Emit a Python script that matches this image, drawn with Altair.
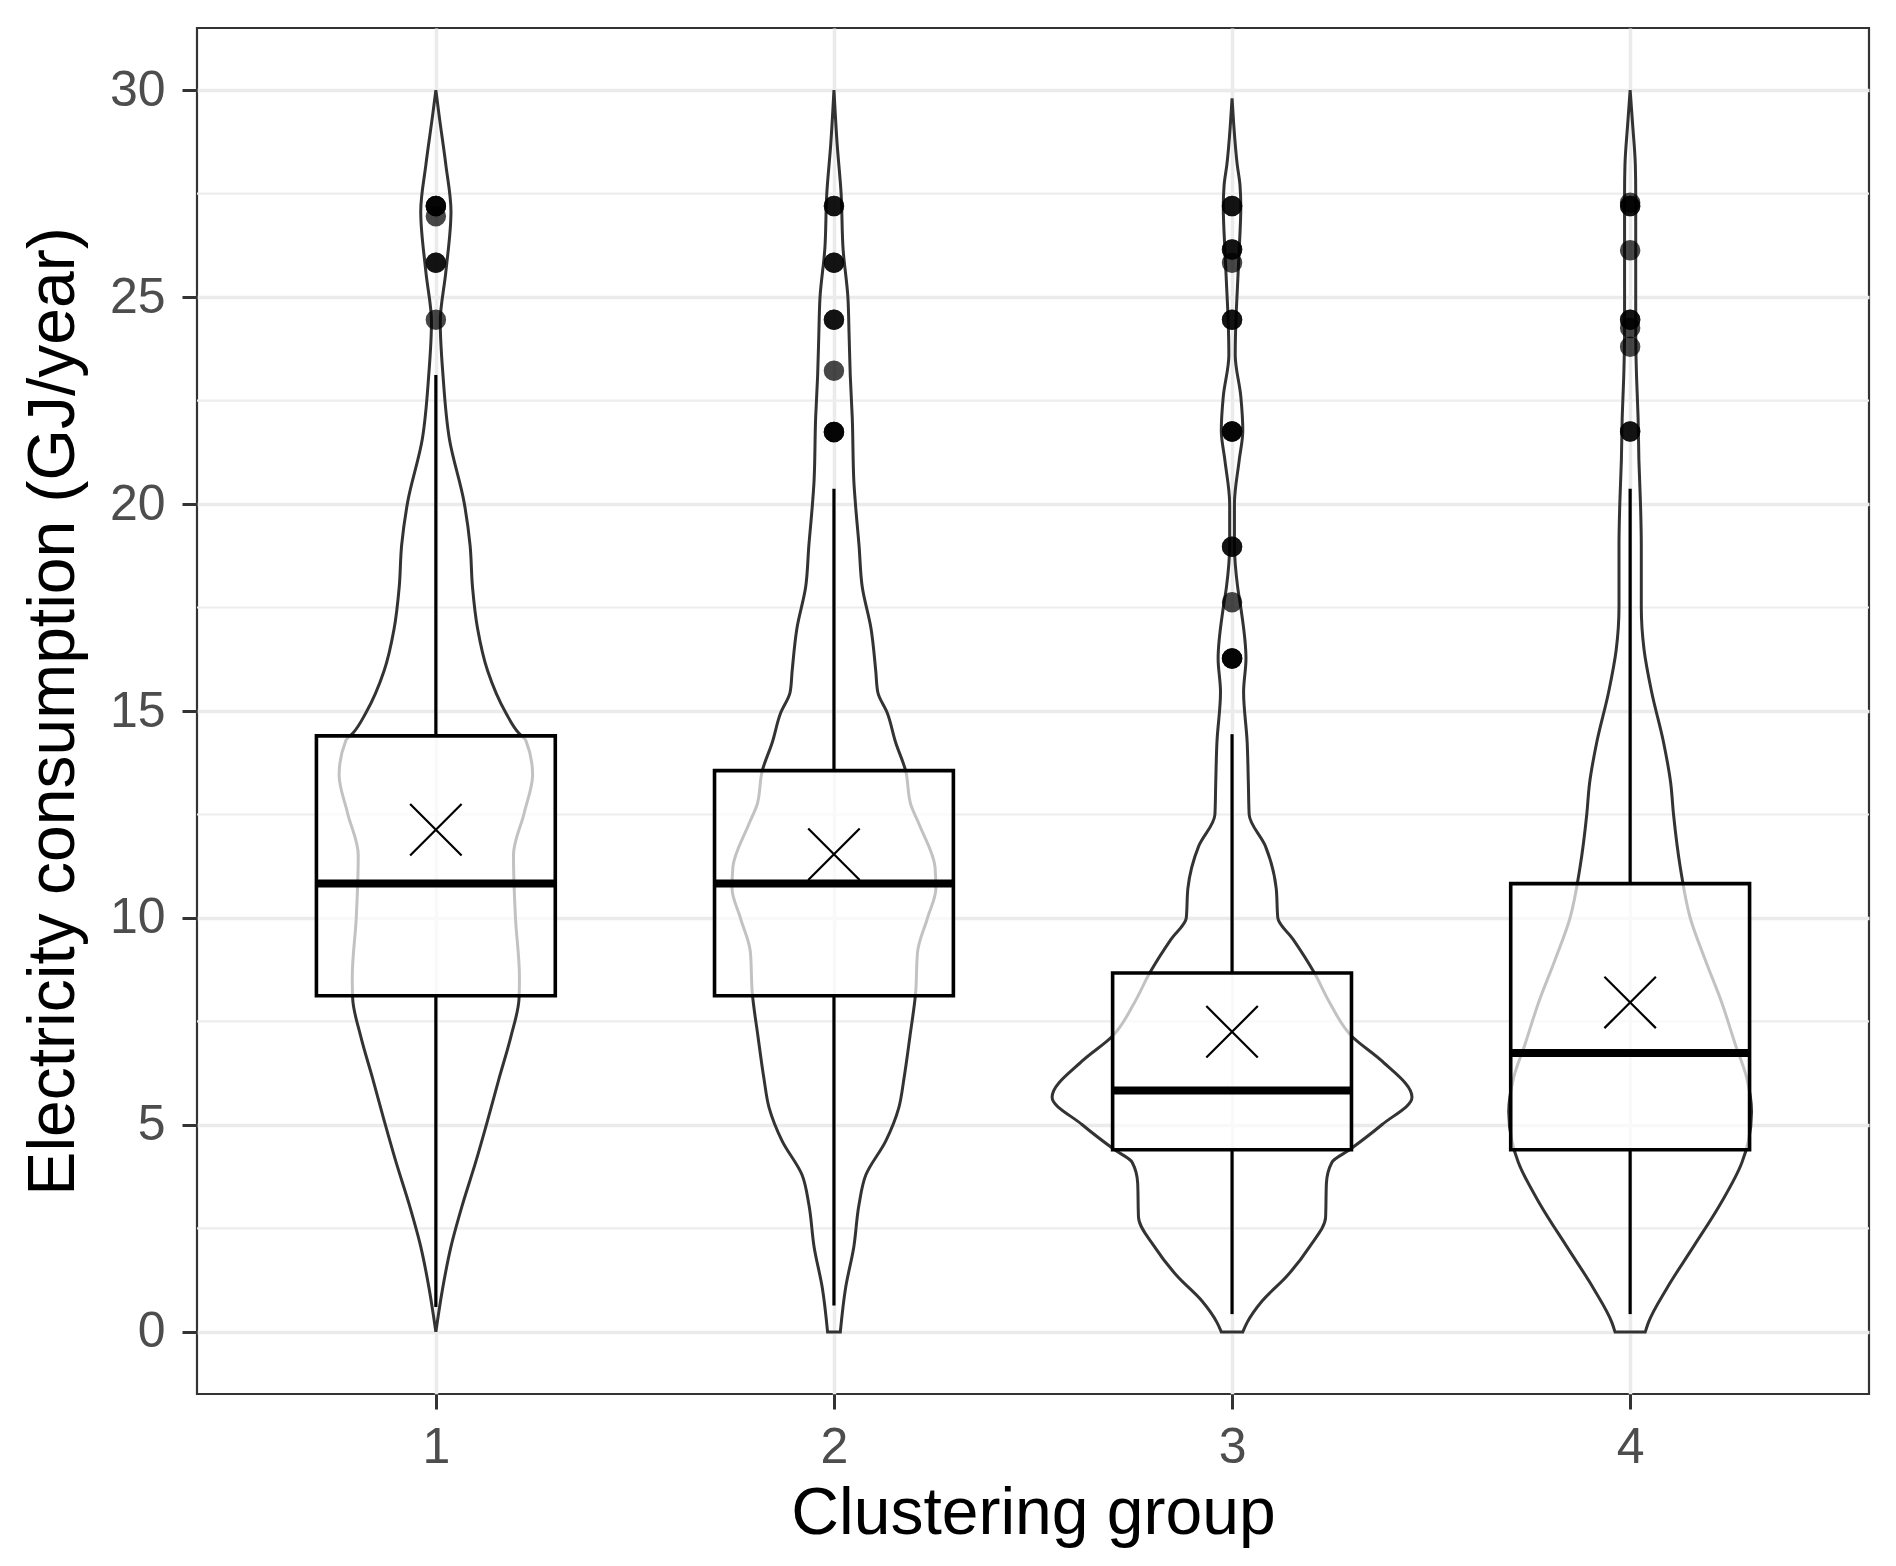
import altair as alt
import pandas as pd

# ---------------- data ----------------
groups = [1, 2, 3, 4]
q1 = [8.12, 8.12, 4.40, 4.40]
median = [10.83, 10.83, 5.83, 6.74]
q3 = [14.40, 13.56, 8.67, 10.83]
whisker_low = [0.60, 0.64, 0.43, 0.43]
whisker_high = [23.12, 20.37, 14.44, 20.37]
means = [12.13, 11.54, 7.25, 7.96]

outliers_1 = [27.2, 27.2, 27.2, 26.95, 25.83, 25.83, 24.45]
outliers_2 = [27.2, 27.2, 25.83, 25.83, 24.45, 24.45, 23.22, 21.74, 21.74, 21.74]
outliers_3 = [27.2, 27.2, 26.15, 26.15, 25.83, 24.45, 24.45, 21.75, 21.75, 21.75,
              18.97, 18.97, 17.63, 16.27, 16.27, 16.27]
outliers_4 = [27.28, 27.2, 27.2, 26.13, 24.45, 24.45, 24.25, 23.8, 21.75, 21.75]

# violin outlines: value and half-width (in category units)
violin_y_1 = [0.0, 1.05, 2.06, 3.08, 4.1, 5.11, 6.13, 7.15, 8.06, 8.57, 10.0, 11.52,
              12.54, 13.46, 14.29, 14.48, 14.95, 15.97, 16.98, 18.0, 19.0, 20.04,
              21.57, 23.1, 24.4, 25.6, 27.07, 28.2, 29.4, 30.0]
violin_w_1 = [0.0, 0.017, 0.038, 0.067, 0.10, 0.13, 0.159, 0.189, 0.209, 0.21, 0.20, 0.195,
              0.222, 0.243, 0.226, 0.207, 0.176, 0.13, 0.105, 0.092, 0.086, 0.071,
              0.034, 0.018, 0.011, 0.025, 0.038, 0.025, 0.008, 0.0]

violin_y_2 = [0.0, 1.05, 2.06, 3.08, 3.79, 4.61, 5.42, 6.13, 7.15, 8.17, 9.18, 10.0,
              10.71, 11.22, 12.24, 12.74, 13.56, 14.24, 14.95, 15.46, 15.97, 17.0, 18.0,
              19.0, 20.0, 20.55, 22.08, 23.1, 24.1, 25.0, 26.15, 27.5, 28.7, 30.0]
violin_w_2 = [0.016, 0.029, 0.05, 0.063, 0.08, 0.13, 0.163, 0.176, 0.191, 0.205, 0.21, 0.235,
              0.256, 0.254, 0.215, 0.193, 0.18, 0.155, 0.134, 0.11, 0.105, 0.093, 0.071,
              0.063, 0.054, 0.05, 0.046, 0.041, 0.038, 0.035, 0.023, 0.018, 0.008, 0.0]

violin_y_3 = [0.0, 0.23, 0.74, 1.35, 2.06, 2.77, 3.59, 4.1, 4.4, 5.01, 5.67, 6.54, 7.15,
              7.96, 8.67, 9.49, 10.0, 10.71, 11.73, 12.5, 13.25, 14.24, 15.46, 16.27,
              17.5, 18.0, 19.02, 20.0, 21.06, 21.77, 22.6, 23.6, 24.5, 25.13, 26.15,
              27.17, 27.7, 28.2, 29.2, 29.8]
violin_w_3 = [0.027, 0.038, 0.075, 0.138, 0.195, 0.235, 0.237, 0.251, 0.295, 0.377, 0.452,
              0.377, 0.30, 0.245, 0.207, 0.153, 0.115, 0.111, 0.084, 0.043, 0.041, 0.038,
              0.029, 0.035, 0.022, 0.014, 0.006, 0.006, 0.018, 0.027, 0.022, 0.008, 0.01,
              0.013, 0.018, 0.022, 0.02, 0.013, 0.004, 0.0]

violin_y_4 = [0.0, 0.23, 1.05, 2.06, 3.08, 4.1, 4.61, 5.32, 6.13, 6.95, 7.96, 8.98, 10.0,
              11.22, 12.5, 13.25, 14.24, 15.46, 16.48, 17.5, 19.0, 20.0, 21.06, 22.08,
              23.1, 24.1, 26.15, 27.5, 28.2, 29.2, 30.0]
violin_w_4 = [0.038, 0.046, 0.092, 0.159, 0.226, 0.281, 0.297, 0.305, 0.293, 0.264, 0.23,
              0.189, 0.151, 0.126, 0.109, 0.102, 0.084, 0.054, 0.035, 0.028, 0.028, 0.026,
              0.022, 0.02, 0.016, 0.014, 0.014, 0.014, 0.013, 0.006, 0.0]

y_major = [0, 5, 10, 15, 20, 25, 30]
y_minor = [2.5, 7.5, 12.5, 17.5, 22.5, 27.5]

# ---------------- tables ----------------
BOX_HALF = 0.3
box_df = pd.DataFrame({
    "group": groups, "q1": q1, "median": median, "q3": q3,
    "wlo": whisker_low, "whi": whisker_high, "mean": means,
})
box_df["left"] = box_df["group"] - BOX_HALF
box_df["right"] = box_df["group"] + BOX_HALF

rows = []
for g, ys, ws in zip(groups, [violin_y_1, violin_y_2, violin_y_3, violin_y_4],
                     [violin_w_1, violin_w_2, violin_w_3, violin_w_4]):
    for yv, wv in zip(ys, ws):
        rows.append({"cluster": g, "y": yv, "lo": g - wv, "hi": g + wv})
violin_df = pd.DataFrame(rows)

out_rows = []
for g, vals in zip(groups, [outliers_1, outliers_2, outliers_3, outliers_4]):
    for v in vals:
        out_rows.append({"group": g, "value": v})
out_df = pd.DataFrame(out_rows)

minor_df = pd.DataFrame({"v": y_minor})

# ---------------- scales / axes ----------------
FONT = "Liberation Sans"
xscale = alt.Scale(domain=[0.4, 4.6], nice=False, zero=False)
yscale = alt.Scale(domain=[-1.5, 31.5], nice=False, zero=False)

xaxis = alt.Axis(values=groups, format="d", title="Clustering group",
                 grid=True, gridColor="#EBEBEB", gridWidth=3.5,
                 ticks=True, tickSize=15, tickWidth=3, tickColor="#333333",
                 labelFontSize=50, labelColor="#4D4D4D", labelFont=FONT, labelPadding=13,
                 titleFontSize=66, titleFont=FONT, titleColor="black", titleFontWeight="normal",
                 titleBaseline="alphabetic", titleY=139, titleX=836, domain=False)
yaxis = alt.Axis(values=y_major, format="d", title="Electricity consumption (GJ/year)",
                 grid=True, gridColor="#EBEBEB", gridWidth=3.5,
                 ticks=True, tickSize=15, tickWidth=3, tickColor="#333333",
                 labelFontSize=50, labelColor="#4D4D4D", labelFont=FONT, labelPadding=17,
                 titleFontSize=66, titleFont=FONT, titleColor="black", titleFontWeight="normal",
                 titleBaseline="alphabetic", titleAngle=270, titleX=-124, titleY=683,
                 domain=False)


def X(field):
    return alt.X(field, type="quantitative", scale=xscale, axis=xaxis)


def Y(field):
    return alt.Y(field, type="quantitative", scale=yscale, axis=yaxis)


minor_grid = alt.Chart(minor_df).mark_rule(color="#EDEDED", strokeWidth=2.2).encode(
    y=Y("v")
)

violins = alt.Chart(violin_df).mark_area(
    orient="horizontal", interpolate="monotone", fill="white", fillOpacity=0,
    stroke="#333333", strokeWidth=3
).encode(
    y=Y("y"), x=X("lo"), x2="hi", detail="cluster:N"
)

whisk_up = alt.Chart(box_df).mark_rule(color="black", strokeWidth=3.2).encode(
    x=X("group"), y=Y("q3"), y2="whi"
)
whisk_dn = alt.Chart(box_df).mark_rule(color="black", strokeWidth=3.2).encode(
    x=X("group"), y=Y("q1"), y2="wlo"
)

boxes = alt.Chart(box_df).mark_rect(
    fill="white", fillOpacity=0.7, stroke="black", strokeWidth=3.6
).encode(
    x=X("left"), x2="right", y=Y("q1"), y2="q3"
)

medians = alt.Chart(box_df).mark_rule(color="black", strokeWidth=8).encode(
    x=X("left"), x2="right", y=Y("median")
)

outliers = alt.Chart(out_df).mark_circle(color="black", opacity=0.72, size=420).encode(
    x=X("group"), y=Y("value")
)

mean_marks = alt.Chart(box_df).mark_point(
    shape="M-1,-1L1,1M-1,1L1,-1", size=2650, filled=False, stroke="black",
    strokeWidth=2.2, opacity=1
).encode(
    x=X("group"), y=Y("mean")
)

chart = alt.layer(
    minor_grid, violins, whisk_up, whisk_dn, boxes, medians, outliers, mean_marks
).properties(
    width=1672, height=1366,
    autosize=alt.AutoSizeParams(type="none"),
    padding={"left": 189, "top": 20, "right": 10, "bottom": 160},
    background="white",
).configure_view(
    stroke="#333333", strokeWidth=2.2
)

chart.save("out.html", embed_options={"renderer": "svg", "actions": False})
